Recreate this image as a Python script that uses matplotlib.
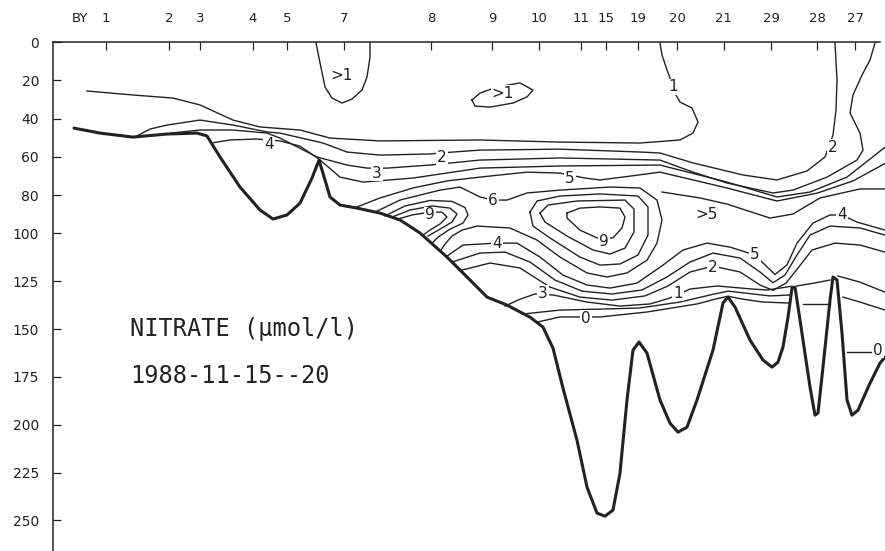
import matplotlib.pyplot as plt

# stations along the section (distance units along x)
stations = ["1", "2", "3", "4", "5", "7", "8", "9", "10", "11", "15", "19", "20", "21", "29", "28", "27"]
station_x = [53, 116, 147, 200, 234, 291, 378, 439, 486, 528, 553, 585, 624, 671, 718, 764, 802]
depth_ticks = [0, 20, 40, 60, 80, 100, 125, 150, 175, 200, 225, 250]

# bottom topography
bottom_x = [21, 47, 80, 114, 144, 154, 167, 187, 207, 220, 234, 247, 259, 266, 272, 277, 287, 304, 327,
            347, 367, 394, 414, 434, 454, 477, 490, 500, 510, 524, 534, 544, 552, 560, 567, 574, 580,
            586, 594, 607, 617, 625, 634, 644, 660, 670, 675, 682, 697, 710, 719, 725, 730, 735, 739,
            742, 747, 757, 762, 765, 770, 777, 780, 784, 789, 794, 799, 805, 817, 827, 832]
bottom_d = [45.0, 47.6, 49.7, 48.1, 47.6, 49.1, 60.1, 75.8, 87.8, 92.5, 90.4, 84.2, 71.1, 61.7, 72.1,
            81.0, 85.2, 86.8, 89.4, 93.0, 99.8, 112.4, 122.8, 133.3, 137.5, 143.8, 149.0, 160.0, 180.9,
            208.1, 232.6, 246.2, 247.8, 244.6, 225.3, 187.1, 161.0, 156.8, 162.6, 187.1, 199.2, 203.9,
            201.3, 187.1, 161.0, 136.4, 133.3, 138.5, 155.8, 166.2, 169.9, 167.3, 159.4, 143.8, 128.6,
            128.1, 145.3, 180.3, 195.0, 193.9, 169.9, 134.9, 122.8, 124.4, 152.1, 187.1, 195.0, 192.4,
            178.3, 167.8, 164.7]

# nitrate isolines, each as (x list, depth list)
iso_1 = ([34, 80, 120, 147, 180, 207, 247, 277, 327, 427, 507, 587, 627, 640, 645, 639, 627, 620, 617, 614, 609, 607],
         [25.6, 27.7, 29.3, 32.9, 40.8, 44.4, 46.0, 50.2, 51.7, 51.2, 52.3, 52.8, 51.2, 47.6, 41.8, 34.5, 31.4, 25.0, 18.8, 14.6, 6.8, 0.5])
patch_st7 = ([263, 267, 272, 279, 289, 299, 309, 314, 317, 317],
             [0.5, 10.9, 23.5, 29.3, 31.9, 29.8, 25.1, 18.3, 7.8, 0.5])
patch_st9 = ([419, 427, 444, 467, 480, 474, 460, 437, 422, 419],
             [30.3, 26.7, 23.5, 21.4, 25.1, 28.7, 31.9, 34.0, 33.5, 30.3])
iso_2 = ([82, 97, 114, 147, 180, 214, 227, 270, 294, 327, 377, 400, 427, 507, 587, 607, 640, 690, 724, 754, 772, 780, 783, 784, 782],
         [49.6, 45.5, 43.4, 40.8, 43.4, 47.0, 47.6, 52.8, 57.5, 59.1, 58.5, 57.5, 56.5, 56.0, 57.5, 58.0, 63.2, 69.5, 72.1, 67.4, 60.1, 48.6, 35.5, 19.9, 0.5])
iso_3 = ([118, 147, 180, 214, 227, 264, 294, 314, 334, 377, 427, 507, 607, 640, 674, 720, 740, 774, 804, 810, 807, 797, 800, 809, 817, 822],
         [47.6, 46.0, 46.0, 47.6, 50.2, 60.1, 64.3, 65.9, 65.9, 64.3, 61.7, 60.6, 61.7, 68.0, 73.7, 78.9, 77.4, 70.6, 61.7, 56.5, 47.6, 37.1, 27.7, 17.3, 9.4, 0.5])
iso_4 = ([158, 177, 204, 227, 247, 266, 287, 310, 360, 427, 507, 607, 674, 724, 757, 794, 832],
         [52.8, 51.2, 50.7, 51.7, 54.4, 61.2, 70.6, 73.2, 71.1, 65.9, 64.8, 64.3, 73.2, 81.0, 78.4, 70.6, 55.0])
iso_5 = ([304, 327, 360, 394, 427, 474, 507, 532, 547, 577, 607, 674, 724, 764, 800, 832],
         [86.2, 81.5, 76.3, 72.6, 70.6, 68.0, 68.5, 71.1, 72.1, 70.1, 68.0, 76.3, 83.1, 79.0, 72.6, 63.5])
iso_5b = ([609, 647, 674, 717, 740, 767, 807, 832],
          [78.4, 81.5, 84.7, 92.0, 89.9, 81.5, 76.8, 76.8])
iso_6 = ([322, 347, 387, 407, 427, 440, 454, 474, 507, 557, 587, 604, 609, 604, 594, 574, 554, 534, 507, 484, 457, 424, 409, 399, 392, 388],
         [88.9, 82.6, 77.4, 75.8, 81.0, 82.6, 82.6, 78.9, 77.4, 75.8, 76.3, 82.6, 93.0, 105.1, 114.0, 120.7, 122.8, 120.7, 112.4, 103.5, 97.2, 96.2, 98.3, 101.4, 105.6, 108.7])
# maxima next to the slope at station 8
st8_a = ([332, 352, 377, 399, 412, 415, 410, 397, 385, 379],
         [90.9, 85.7, 82.8, 83.3, 86.5, 90.4, 94.6, 97.8, 102.0, 105.1])
st8_b = ([339, 357, 379, 397, 404, 399, 387, 375],
         [91.5, 87.8, 85.7, 86.8, 89.9, 94.1, 97.8, 101.4])
st8_c = ([345, 359, 377, 389, 394, 387, 377, 370],
         [92.5, 90.4, 88.9, 88.9, 91.5, 95.1, 98.3, 100.9])
# closed maxima between stations 10 and 19
core_7 = ([477, 484, 507, 547, 585, 595, 595, 585, 567, 547, 527, 497, 480, 477],
          [88.9, 83.1, 80.5, 79.4, 80.5, 86.2, 100.9, 111.3, 116.0, 116.6, 112.4, 102.4, 96.2, 88.9])
core_8 = ([487, 495, 524, 572, 581, 581, 572, 557, 540, 514, 492, 487],
          [89.4, 85.2, 83.1, 82.6, 87.3, 99.3, 107.7, 110.8, 108.7, 101.4, 94.1, 89.4])
core_9 = ([514, 527, 547, 567, 572, 569, 560, 544, 527, 514, 514],
          [89.4, 86.8, 86.2, 86.8, 91.5, 97.2, 102.4, 102.4, 98.3, 92.0, 89.4])
# isolines under the maxima, dipping into the trough at station 29
low_a = ([394, 410, 444, 464, 487, 510, 534, 557, 584, 610, 630, 654, 677, 702, 710, 722, 734, 744, 760, 777, 789, 804, 832],
         [111.9, 106.1, 105.1, 105.1, 112.4, 121.8, 127.0, 128.6, 126.0, 116.6, 108.7, 105.1, 107.2, 111.3, 115.5, 121.5, 116.5, 105.1, 94.6, 90.4, 90.4, 94.1, 98.3])
low_b = ([399, 427, 452, 477, 502, 529, 559, 589, 614, 637, 660, 687, 707, 720, 732, 744, 757, 777, 807, 832],
         [115.0, 110.3, 109.8, 115.0, 124.4, 130.2, 131.7, 129.6, 122.8, 115.0, 110.3, 112.9, 120.2, 125.8, 121.8, 111.3, 100.9, 96.2, 97.2, 100.9])
low_c = ([409, 437, 467, 497, 527, 559, 592, 615, 637, 660, 687, 707, 720, 733, 745, 759, 782, 807, 832],
         [119.2, 115.5, 118.1, 128.1, 133.3, 134.9, 132.7, 127.5, 120.2, 117.1, 120.2, 127.0, 129.8, 126.0, 118.1, 108.7, 105.1, 106.1, 109.8])
low_3 = ([452, 467, 482, 500, 534, 567, 597, 617, 637, 664, 697, 714, 727, 739],
         [138.0, 134.4, 131.7, 132.2, 135.9, 138.0, 136.9, 133.8, 129.1, 127.5, 129.0, 129.6, 128.6, 127.6])
low_1 = ([469, 507, 547, 587, 627, 657, 675, 692, 717, 737],
         [142.2, 140.1, 139.6, 139.0, 135.9, 132.2, 130.2, 131.2, 132.7, 132.2])
low_0 = ([484, 507, 547, 594, 644, 665, 675, 690, 710, 736],
         [146.4, 143.7, 143.7, 141.1, 136.9, 134.0, 132.9, 134.4, 135.9, 136.4])
gap_a = ([744, 762, 777], [127.5, 125.9, 124.4])
gap_b = ([750, 777], [136.9, 136.9])
east_a = ([785, 807, 832], [122.3, 125.5, 130.7])
east_b = ([790, 807, 832], [133.3, 135.9, 140.1])
east_0 = ([794, 818], [162.0, 162.0])

isolines = [iso_1, patch_st7, patch_st9, iso_2, iso_3, iso_4, iso_5, iso_5b, iso_6,
            st8_a, st8_b, st8_c, core_7, core_8, core_9, low_a, low_b, low_c,
            low_3, low_1, low_0, gap_a, gap_b, east_a, east_b, east_0]

# contour labels: (x, depth, text)
labels = [(620, 23.5, "1"), (289, 17.3, ">1"), (450, 26.7, ">1"),
          (389, 60.1, "2"), (780, 54.9, "2"), (324, 68.5, "3"), (216, 53.8, "4"),
          (517, 71.1, "5"), (440, 82.6, "6"), (377, 90.4, "9"), (551, 104.5, "9"),
          (654, 90.4, ">5"), (444, 105.1, "4"), (702, 111.3, "5"), (789, 90.4, "4"),
          (660, 118.1, "2"), (490, 131.2, "3"), (625, 131.2, "1"), (533, 144.3, "0"),
          (825, 161.0, "0")]

fig = plt.figure(figsize=(8.85, 5.51), dpi=100)
ax = fig.add_axes([53 / 885, 0, 1 - 53 / 885, 1 - 42 / 551])
ink = "#222222"

ax.plot(bottom_x, bottom_d, color=ink, lw=2.2, solid_joinstyle="round", solid_capstyle="round", zorder=3)
for xs, ds in isolines:
    ax.plot(xs, ds, color=ink, lw=1.0, solid_joinstyle="round", zorder=2)

for x, d, t in labels:
    ax.text(x, d, t, ha="center", va="center", fontsize=11, color=ink, zorder=4,
            bbox=dict(facecolor="white", edgecolor="none", pad=0.6))

ax.set_xlim(0, 832)
ax.set_ylim(266, 0)
for s in ["right", "bottom"]:
    ax.spines[s].set_visible(False)
for s in ["left", "top"]:
    ax.spines[s].set_color(ink)
    ax.spines[s].set_linewidth(1.1)
ax.spines["top"].set_bounds(0, 827)

ax.set_yticks(depth_ticks)
ax.set_yticklabels([str(t) for t in depth_ticks])
ax.tick_params(axis="y", direction="in", length=6, width=0.9, colors=ink, labelsize=10, pad=10)
ax.xaxis.tick_top()
ax.set_xticks(station_x)
ax.set_xticklabels(stations)
ax.tick_params(axis="x", direction="in", length=6, width=0.9, colors=ink, labelsize=9.5, pad=12)
ax.text(27, -12.5, "BY", ha="center", va="center", fontsize=9.5, color=ink, clip_on=False)

ax.text(77, 150.0, "NITRATE (µmol/l)", fontsize=17, family="DejaVu Sans Mono", color=ink, va="center")
ax.text(77, 174.6, "1988-11-15--20", fontsize=17, family="DejaVu Sans Mono", color=ink, va="center")

fig.savefig("out.png", dpi=100)
